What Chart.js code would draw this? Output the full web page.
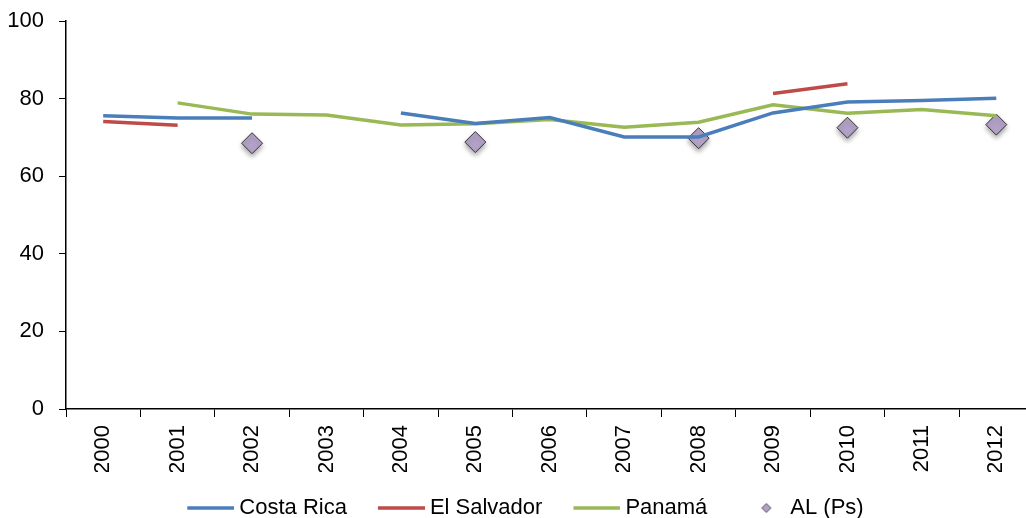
<!DOCTYPE html>
<html>
<head>
<meta charset="utf-8">
<script src="https://cdn.jsdelivr.net/npm/chart.js@4.4.0/dist/chart.umd.min.js"></script>
<style>
  html, body { margin: 0; padding: 0; background: #fff; overflow: hidden; }
  #wrap { position: relative; width: 1045px; height: 518px; }
</style>
</head>
<body>
<div id="wrap"><canvas id="myChart"></canvas></div>
<script>
// années
const annees = ['2000', '2001', '2002', '2003', '2004', '2005', '2006', '2007', '2008', '2009', '2010', '2011', '2012'];
// séries
const costaRica = [75.6, 75.0, 75.0, null, 76.3, 73.6, 75.1, 70.1, 70.1, 76.3, 79.1, 79.5, 80.1];
const elSalvador = [74.1, 73.1, null, null, null, null, null, null, null, 81.3, 83.8, null, null];
const panama = [null, 78.9, 76.0, 75.8, 73.2, 73.5, 74.6, 72.6, 73.9, 78.4, 76.2, 77.2, 75.6];
const alPs = [null, null, 68.5, null, null, 68.8, null, null, 69.8, null, 72.5, null, 73.3];
const yTicks = [0, 20, 40, 60, 80, 100];

const bleu = '#4a7ebb', rouge = '#be4b48', vert = '#98b954', violet = '#b3a2c7';

// petites images pour la légende
function imageLigne(couleur) {
    const c = document.createElement('canvas');
    c.width = 59; c.height = 6;
    const g = c.getContext('2d');
    g.strokeStyle = couleur; g.lineWidth = 3.5;
    g.beginPath(); g.moveTo(12, 3); g.lineTo(59, 3); g.stroke();
    return c;
}
function imageLosange() {
    const c = document.createElement('canvas');
    c.width = 59; c.height = 12;
    const g = c.getContext('2d');
    g.fillStyle = violet; g.strokeStyle = '#555'; g.lineWidth = 1;
    g.beginPath();
    g.moveTo(40, 1.5); g.lineTo(44.5, 6); g.lineTo(40, 10.5); g.lineTo(35.5, 6); g.closePath();
    g.fill(); g.stroke();
    return c;
}
const imagesLegende = [imageLigne(bleu), imageLigne(rouge), imageLigne(vert), imageLosange()];

// ombre sous les losanges
const ombre = {
    id: 'ombre',
    beforeDatasetDraw(chart, args) {
        if (args.index === 3) {
            const ctx = chart.ctx;
            ctx.save();
            ctx.shadowColor = 'rgba(0,0,0,0.35)';
            ctx.shadowBlur = 5;
            ctx.shadowOffsetY = 3;
        }
    },
    afterDatasetDraw(chart, args) {
        if (args.index === 3) chart.ctx.restore();
    }
};

const ctx = document.getElementById('myChart').getContext('2d');
const myChart = new Chart(ctx, {
    type: 'line',
    data: {
        labels: annees,
        datasets: [
            { label: 'Costa Rica', data: costaRica, borderColor: bleu, backgroundColor: bleu, borderWidth: 3.5, pointRadius: 0, tension: 0 },
            { label: 'El Salvador', data: elSalvador, borderColor: rouge, backgroundColor: rouge, borderWidth: 3.5, pointRadius: 0, tension: 0 },
            { label: 'Panamá', data: panama, borderColor: vert, backgroundColor: vert, borderWidth: 3.5, pointRadius: 0, tension: 0 },
            { label: 'AL (Ps)', data: alPs, showLine: false, pointStyle: 'rectRot', pointRadius: 10.5, pointHoverRadius: 10.5,
              backgroundColor: violet, borderColor: '#333', borderWidth: 1 }
        ]
    },
    options: {
        responsive: true,
        maintainAspectRatio: false,
        animation: false,
        layout: { padding: { top: 21, left: 0, right: 0, bottom: 0 } },
        scales: {
            x: {
                offset: true,
                grid: { offset: true, drawOnChartArea: false, drawTicks: true, tickLength: 8, color: '#000' },
                border: { display: true, color: '#000', width: 1.5 },
                ticks: { minRotation: 90, maxRotation: 90, padding: 8, color: '#000',
                         font: { family: 'Liberation Sans', size: 22 } },
                afterFit(scale) { scale.height = 63; }
            },
            y: {
                min: 0,
                max: 100,
                afterBuildTicks(scale) { scale.ticks = yTicks.map(v => ({ value: v })); },
                grid: { drawOnChartArea: false, drawTicks: true, tickLength: 7, color: '#000' },
                border: { display: true, color: '#000', width: 1.5 },
                ticks: { padding: 15, color: '#000', font: { family: 'Liberation Sans', size: 22 } },
                afterFit(scale) {
                    scale.width = 66;
                    scale.paddingTop = 0;
                    scale.paddingBottom = 0;
                }
            }
        },
        plugins: {
            tooltip: { enabled: false },
            legend: {
                position: 'bottom',
                maxHeight: 46,
                labels: {
                    usePointStyle: true,
                    pointStyleWidth: 47,
                    padding: 25,
                    color: '#000',
                    font: { family: 'Liberation Sans', size: 22 },
                    generateLabels(chart) {
                        return chart.data.datasets.map((ds, i) => ({
                            text: ds.label,
                            pointStyle: imagesLegende[i],
                            fillStyle: ds.backgroundColor,
                            strokeStyle: ds.borderColor,
                            lineWidth: 0,
                            hidden: false,
                            datasetIndex: i,
                            fontColor: '#000'
                        }));
                    }
                }
            }
        }
    },
    plugins: [ombre]
});
</script>
</body>
</html>
